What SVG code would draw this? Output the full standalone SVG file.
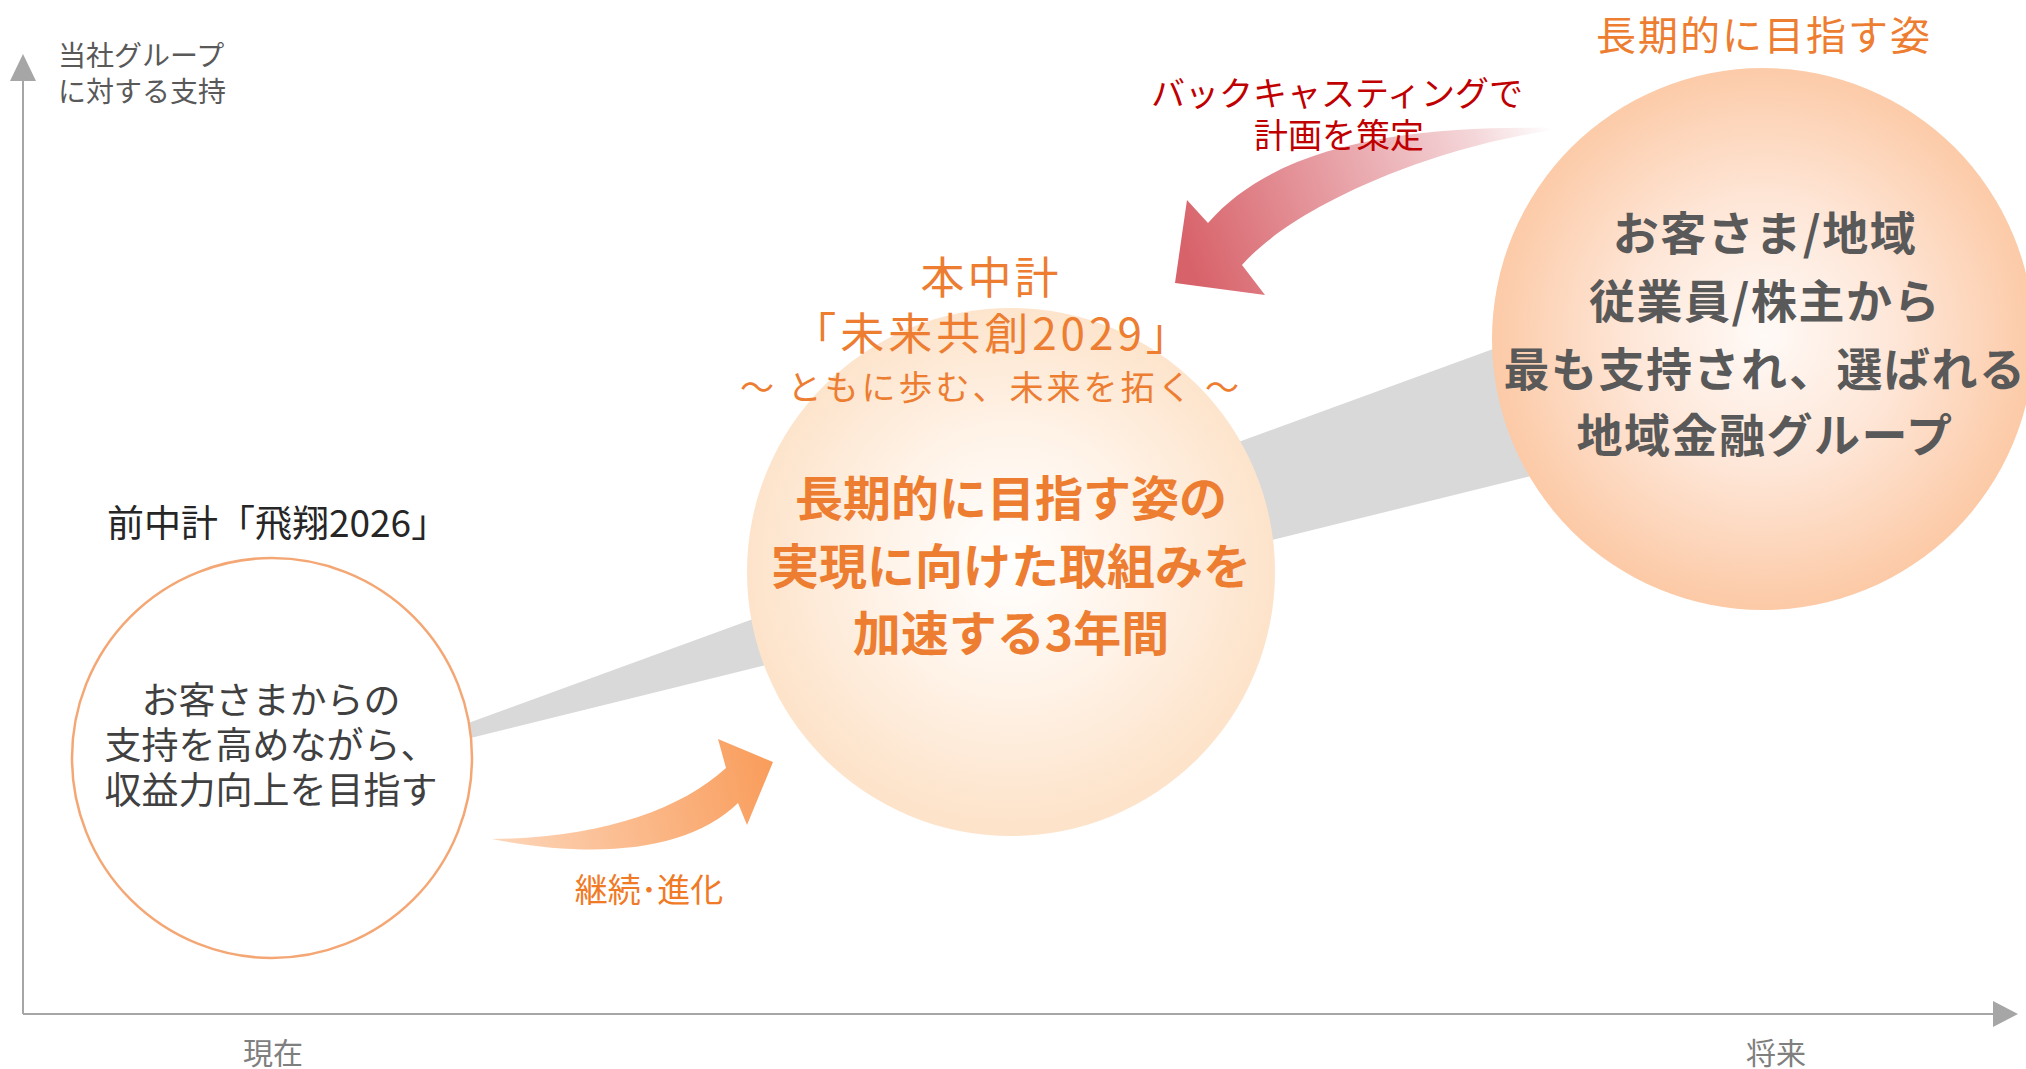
<svg xmlns="http://www.w3.org/2000/svg" width="2026" height="1069" viewBox="0 0 2026 1069">
<defs>
<style>
text{font-family:"Noto Sans CJK JP","Noto Sans",sans-serif;}
.ax{stroke:#a6a6a6;stroke-width:2;fill:none;}
.axh{fill:#a6a6a6;}
.axl{font-size:30px;fill:#7f7f7f;text-anchor:middle;}
.or{fill:#ed7d31;text-anchor:middle;}
.bold{font-weight:700;}
.goal{font-weight:700;font-size:46px;fill:#595959;text-anchor:middle;letter-spacing:1.5px;}
.prev{font-size:37px;fill:#404040;text-anchor:middle;}
</style>
<radialGradient id="gMid" cx="1011" cy="560" r="264" gradientUnits="userSpaceOnUse">
<stop offset="0" stop-color="#ffffff"/>
<stop offset="0.45" stop-color="#fff4ea"/>
<stop offset="1" stop-color="#fde3ca"/>
</radialGradient>
<radialGradient id="gRight" cx="1763" cy="335" r="271" gradientUnits="userSpaceOnUse">
<stop offset="0" stop-color="#fffaf7"/>
<stop offset="0.5" stop-color="#fee6d7"/>
<stop offset="1" stop-color="#fccaa7"/>
</radialGradient>
<linearGradient id="gRed" x1="1553" y1="128" x2="1190" y2="262" gradientUnits="userSpaceOnUse">
<stop offset="0" stop-color="#ffffff"/>
<stop offset="0.2" stop-color="#f4d6d9"/>
<stop offset="1" stop-color="#d8626a"/>
</linearGradient>
<linearGradient id="gOr" x1="492" y1="839" x2="772" y2="770" gradientUnits="userSpaceOnUse">
<stop offset="0" stop-color="#fdd6ba"/>
<stop offset="1" stop-color="#f99d5c"/>
</linearGradient>
</defs>
<rect width="2026" height="1069" fill="#ffffff"/>

<g id="axes">
<line class="ax" x1="23" y1="78" x2="23" y2="1014"/>
<polygon class="axh" points="23,54 10,81 36,81"/>
<line class="ax" x1="23" y1="1014" x2="1995" y2="1014"/>
<polygon class="axh" points="2018,1014 1993,1001 1993,1027"/>
<text x="58" y="66" font-size="28" fill="#595959">当社グループ</text>
<text x="58" y="102" font-size="28" fill="#595959">に対する支持</text>
<text class="axl" x="273" y="1064">現在</text>
<text class="axl" x="1776" y="1064">将来</text>
</g>

<g id="connectors">
<polygon id="trend" points="430,737 1600,310 1600,459 430,748" fill="#d9d9d9"/>
<path id="backcast-arrow" d="M1553,128 C1420,126 1280,140 1208,223 L1187,200 L1175,283 L1265,295 L1242,265 C1290,210 1420,150 1553,130 Z" fill="url(#gRed)"/>
<path id="continue-arrow" d="M492,839 C600,838 680,810 726,768 L718,739 L773,762 L747,825 L738,803 C690,850 600,860 492,839 Z" fill="url(#gOr)"/>
<text x="1337" y="106" font-size="34" fill="#c00000" text-anchor="middle">バックキャスティングで</text>
<text x="1339" y="148" font-size="34" fill="#c00000" text-anchor="middle">計画を策定</text>
<text x="649" y="902" font-size="33" fill="#f07a25" text-anchor="middle">継続･進化</text>
</g>

<g id="node-prev">
<text x="107" y="537" font-size="37" fill="#262626">前中計「飛翔2026」</text>
<circle cx="272" cy="758" r="200" fill="#ffffff" stroke="#f4a774" stroke-width="2.5"/>
<text class="prev" x="271" y="714">お客さまからの</text>
<text class="prev" x="271" y="759">支持を高めながら、</text>
<text class="prev" x="271" y="804">収益力向上を目指す</text>
</g>

<g id="node-current">
<circle cx="1011" cy="572" r="264" fill="url(#gMid)"/>
<text class="or" x="991" y="294" font-size="44" letter-spacing="3">本中計</text>
<text class="or" x="993" y="350" font-size="44" letter-spacing="4">「未来共創2029」</text>
<text class="or" x="991" y="400" font-size="34" letter-spacing="3">～ ともに歩む、未来を拓く ～</text>
<text class="or bold" x="1011" y="516" font-size="48">長期的に目指す姿の</text>
<text class="or bold" x="1011" y="584" font-size="48">実現に向けた取組みを</text>
<text class="or bold" x="1011" y="651" font-size="48">加速する3年間</text>
</g>

<g id="node-goal">
<text class="or" x="1764" y="50" font-size="40" letter-spacing="2">長期的に目指す姿</text>
<circle cx="1763" cy="339" r="271" fill="url(#gRight)"/>
<text class="goal" x="1765" y="250">お客さま/地域</text>
<text class="goal" x="1765" y="318">従業員/株主から</text>
<text class="goal" x="1765" y="386">最も支持され、選ばれる</text>
<text class="goal" x="1765" y="452">地域金融グループ</text>
</g>
</svg>
